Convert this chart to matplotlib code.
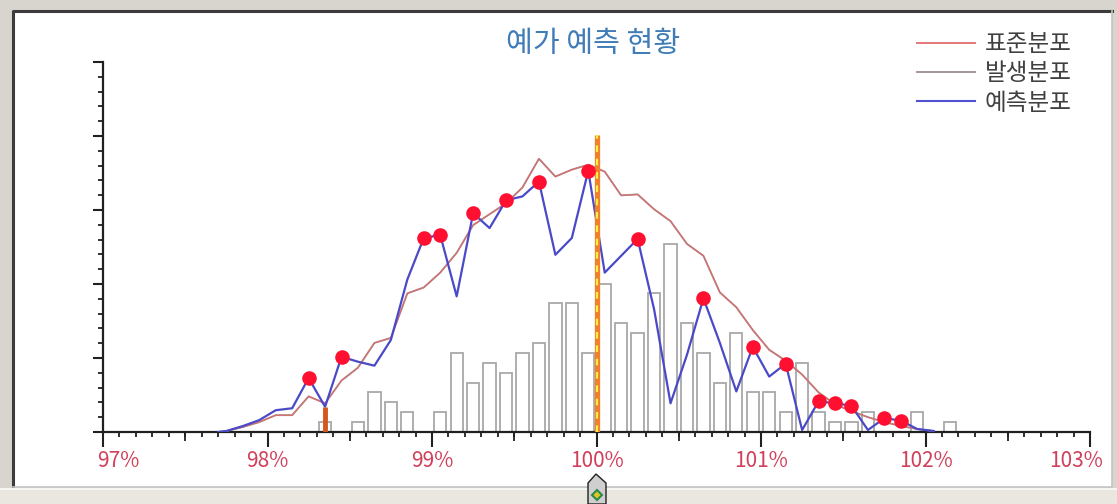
import numpy as np
import matplotlib
matplotlib.use('Agg')
import matplotlib.pyplot as plt
from matplotlib.lines import Line2D
from matplotlib.patches import Rectangle, Polygon
from matplotlib.transforms import ScaledTranslation

plt.rcParams['font.family'] = ['Noto Sans CJK KR', 'DejaVu Sans']

# ---------------- data ----------------
TITLE = '예가 예측 현황'
series_names = ['표준분포', '발생분포', '예측분포']

x_tick_values = [97, 98, 99, 100, 101, 102, 103]
x_tick_labels = ['97%', '98%', '99%', '100%', '101%', '102%', '103%']

bin_centers = [98.35, 98.45, 98.55, 98.65, 98.75, 98.85, 98.95, 99.05, 99.15, 99.25,
               99.35, 99.45, 99.55, 99.65, 99.75, 99.85, 99.95, 100.05, 100.15, 100.25,
               100.35, 100.45, 100.55, 100.65, 100.75, 100.85, 100.95, 101.05, 101.15, 101.25,
               101.35, 101.45, 101.55, 101.65, 101.75, 101.85, 101.95, 102.05, 102.15]
bin_counts = [1, 0, 1, 4, 3, 2, 0, 2, 8, 5,
              7, 6, 8, 9, 13, 13, 8, 15, 11, 10,
              14, 19, 11, 8, 5, 10, 4, 4, 2, 7,
              2, 1, 1, 2, 0, 0, 2, 0, 1]

line_x = [97.70, 97.75, 97.85, 97.95, 98.05, 98.15, 98.25, 98.35, 98.45, 98.55,
          98.65, 98.75, 98.85, 98.95, 99.05, 99.15, 99.25, 99.35, 99.45, 99.55,
          99.65, 99.75, 99.85, 99.95, 100.05, 100.15, 100.25, 100.35, 100.45, 100.55,
          100.65, 100.75, 100.85, 100.95, 101.05, 101.15, 101.25, 101.35, 101.45, 101.55,
          101.65, 101.75, 101.85, 101.95, 102.05]
standard_values = [0.0, 0.1, 0.5, 1.0, 1.7, 1.7, 3.6, 2.9, 5.2, 6.5,
                   9.0, 9.5, 14.0, 14.6, 16.1, 18.1, 20.9, 22.0, 23.1, 24.7,
                   27.6, 25.8, 26.5, 27.0, 26.3, 23.9, 24.0, 22.5, 21.3, 19.0,
                   17.8, 14.1, 12.6, 10.3, 8.3, 7.2, 5.8, 4.0, 2.8, 2.1,
                   1.5, 1.0, 0.6, 0.3, 0.1]
occurrence_values = [0.0, 0.1, 0.5, 1.0, 1.7, 1.7, 3.6, 2.9, 5.2, 6.5,
                     9.0, 9.5, 14.0, 14.6, 16.1, 18.1, 20.9, 22.0, 23.1, 24.7,
                     27.6, 25.8, 26.5, 27.0, 26.3, 23.9, 24.0, 22.5, 21.3, 19.0,
                     17.8, 14.1, 12.6, 10.3, 8.3, 7.2, 5.8, 4.0, 2.8, 2.1,
                     1.5, 1.0, 0.6, 0.3, 0.1]
forecast_values = [0.0, 0.1, 0.6, 1.2, 2.2, 2.4, 5.45, 2.55, 7.6, 7.1,
                   6.7, 9.3, 15.4, 19.6, 19.9, 13.7, 22.1, 20.6, 23.4, 23.8,
                   25.3, 17.9, 19.6, 26.4, 16.1, 17.8, 19.5, 12.4, 2.9, 7.8,
                   13.5, 9.0, 4.1, 8.6, 5.6, 6.9, 0.2, 3.1, 2.9, 2.65,
                   0.2, 1.4, 1.15, 0.3, 0.1]

highlight_x = [98.25, 98.45, 98.95, 99.05, 99.25, 99.45, 99.65, 99.95, 100.25,
               100.65, 100.95, 101.15, 101.35, 101.45, 101.55, 101.75, 101.85]
low_mark_x = 98.35
center_mark_x = 100.0
center_mark_height = 30.0

# ---------------- figure ----------------
W, H = 1117, 504
fig = plt.figure(figsize=(W / 100, H / 100), dpi=100)
fig.patch.set_facecolor('#d8d5ce')


def fx(x):
    return x / W


def fy(y):
    return 1 - y / H


# panel and frame
fig.add_artist(Rectangle((fx(13), fy(487)), (1112 - 13) / W, (487 - 11) / H,
                         transform=fig.transFigure, facecolor='white', edgecolor='none', zorder=0))
fig.add_artist(Rectangle((0, 0), 1, 16 / H, transform=fig.transFigure,
                         facecolor='#e9e7e0', edgecolor='none', zorder=0))
fig.add_artist(Line2D([fx(13), fx(13), fx(1112)], [fy(487), fy(11), fy(11)],
                      transform=fig.transFigure, color='#3c3c3c', lw=2.2, zorder=1))
fig.add_artist(Line2D([fx(1112), fx(1112), fx(13)], [fy(11), fy(487), fy(487)],
                      transform=fig.transFigure, color='#c4c4c4', lw=1.2, zorder=1))
fig.add_artist(Line2D([0, 1], [fy(489), fy(489)], transform=fig.transFigure,
                      color='#f6f6f2', lw=1.5, zorder=1))

# slider icon at the bottom
fig.add_artist(Polygon([(fx(588), fy(504)), (fx(588), fy(483)), (fx(596), fy(474)),
                        (fx(606), fy(483)), (fx(606), fy(504))],
                       closed=True, transform=fig.transFigure, facecolor='#cfcfcf',
                       edgecolor='#202020', lw=1.0, zorder=2))
fig.add_artist(Polygon([(fx(597), fy(490)), (fx(602), fy(495)), (fx(597), fy(500)), (fx(592), fy(495))],
                       closed=True, transform=fig.transFigure, facecolor='#e0c820',
                       edgecolor='#2a8a50', lw=1.5, zorder=3))

ymax = 370 / 9.9
ax = fig.add_axes([fx(103), fy(432), (1090 - 103) / W, (432 - 62) / H])
ax.patch.set_visible(False)
ax.set_xlim(97, 103)
ax.set_ylim(0, ymax)

for s in ['top', 'right']:
    ax.spines[s].set_visible(False)
for s in ['left', 'bottom']:
    ax.spines[s].set_color('#202020')
    ax.spines[s].set_linewidth(1.6)

# bars
ax.bar(bin_centers, bin_counts, width=0.075, facecolor='white', edgecolor='#a8a8a8',
       linewidth=1.3, zorder=2)

# lines
ax.plot(line_x, occurrence_values, color='#a89090', lw=1.3, zorder=3)
ax.plot(line_x, standard_values, color='#d86c6c', lw=1.0, alpha=0.85, zorder=3.1)
ax.plot(line_x, forecast_values, color='#4a4ac8', lw=1.6, zorder=4)

# highlighted points
hy = [forecast_values[line_x.index(x)] for x in highlight_x]
ax.plot(highlight_x, hy, 'o', color='#ff1030', ms=10.5, mec='none', zorder=6)

# markers
ax.vlines(low_mark_x, 0, forecast_values[line_x.index(low_mark_x)], color='#d4581c',
          lw=3.5, zorder=5)
ax.vlines(center_mark_x, 0, center_mark_height, color='#f0802c', lw=3.8, zorder=5)
ax.vlines(center_mark_x, 0, center_mark_height, color='#f8f040', lw=1.6,
          linestyles=(0, (3, 3)), zorder=5.1)

# ticks
ax.set_xticks(x_tick_values)
ax.set_xticklabels(x_tick_labels)
ax.set_xticks(np.arange(97, 103.001, 0.1), minor=True)
ax.tick_params(axis='x', which='major', length=10.8, width=1.5, direction='out',
               color='#202020', labelcolor='#d0405a', labelsize=15, pad=2)
ax.tick_params(axis='x', which='minor', length=3.8, width=1.3, direction='out', color='#202020')

sec = ax.secondary_xaxis('bottom')
sec.set_xticks([97.5, 98.5, 99.5, 100.5, 101.5, 102.5])
sec.tick_params(length=6.5, width=1.3, direction='out', color='#202020', labelbottom=False)
sec.spines['bottom'].set_visible(False)

ax.set_yticks(np.linspace(0, ymax, 6))
ax.set_yticklabels([])
ax.set_yticks(np.linspace(0, ymax, 26), minor=True)
ax.tick_params(axis='y', which='major', length=7.2, width=1.5, color='#202020')
ax.tick_params(axis='y', which='minor', length=3.8, width=1.3, color='#202020')

labels = ax.get_xticklabels()
labels[0].set_ha('left')
labels[0].set_transform(labels[0].get_transform() + ScaledTranslation(-6 / 100, 0, fig.dpi_scale_trans))
labels[-1].set_ha('right')
labels[-1].set_transform(labels[-1].get_transform() + ScaledTranslation(13 / 100, 0, fig.dpi_scale_trans))

# title
fig.text(fx(593), fy(44), TITLE, ha='center', va='center', fontsize=21, color='#3f7cb8')

# legend
handles = [Line2D([], [], color='#e06a70', lw=1.3),
           Line2D([], [], color='#9a8c8c', lw=1.3),
           Line2D([], [], color='#5050d0', lw=1.5)]
fig.legend(handles, series_names, loc='upper left', bbox_to_anchor=(fx(917), fy(33)),
           frameon=False, fontsize=17, handlelength=2.45, handletextpad=0.42,
           labelspacing=0.27, borderpad=0, borderaxespad=0, labelcolor='#404040')

fig.savefig('out.png', dpi=100)
